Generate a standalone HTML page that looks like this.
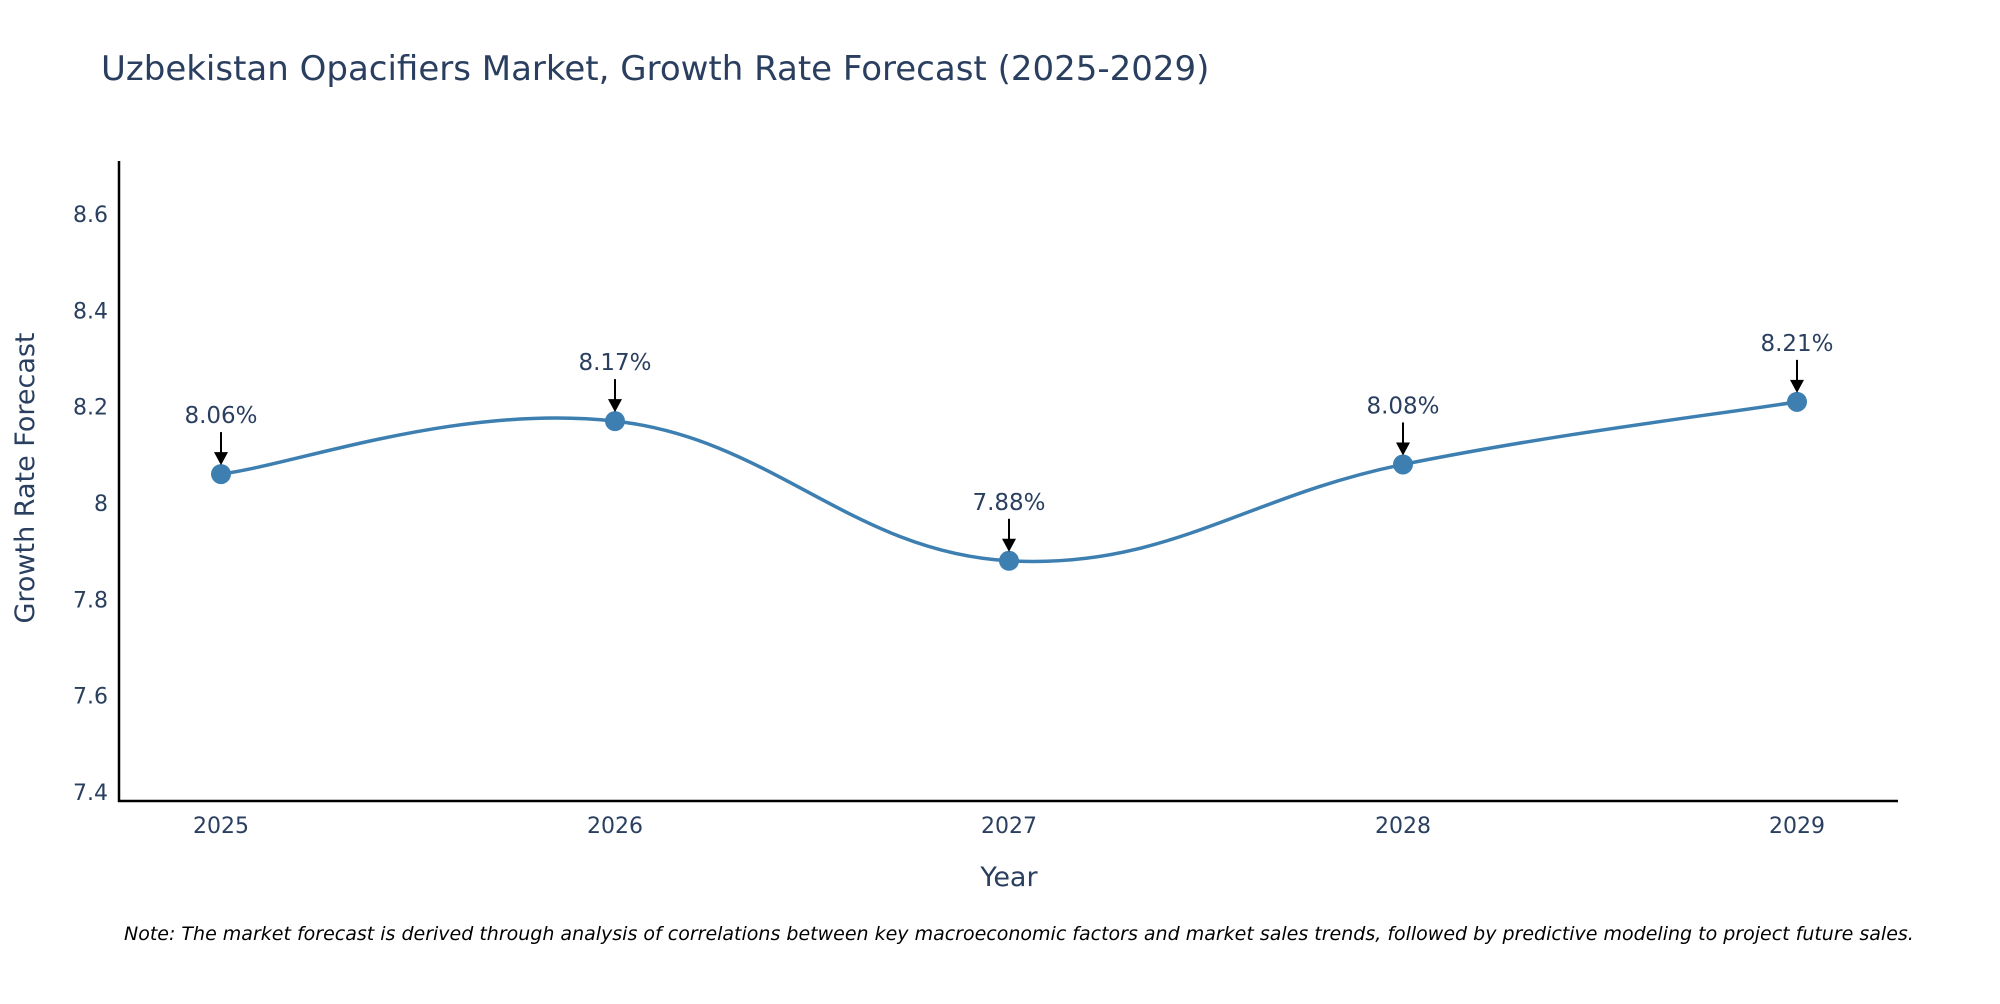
<!DOCTYPE html>
<html>
<head>
<meta charset="utf-8">
<style>
  html,body{margin:0;padding:0;background:#fff;}
  body{width:2000px;height:1000px;overflow:hidden;font-family:"DejaVu Sans","Liberation Sans",sans-serif;}
  svg text{font-family:"DejaVu Sans","Liberation Sans",sans-serif;}
</style>
</head>
<body>
<svg id="chart" width="2000" height="1000" viewBox="0 0 2000 1000" xmlns="http://www.w3.org/2000/svg">
  <text x="101" y="80" font-size="34" fill="#2a3f5f">Uzbekistan Opacifiers Market, Growth Rate Forecast (2025-2029)</text>
  <g id="yticks"></g>
  <g id="xticks"></g>
  <line x1="119" y1="161" x2="119" y2="802" stroke="#000" stroke-width="2.5"/>
  <line x1="118" y1="801" x2="1898" y2="801" stroke="#000" stroke-width="2.5"/>
  <path id="line" fill="none" stroke="#3d7fb1" stroke-width="3.5"/>
  <g id="marks"></g>
  <g id="annots"></g>
  <text transform="translate(34,478) rotate(-90)" text-anchor="middle" font-size="27" fill="#2a3f5f">Growth Rate Forecast</text>
  <text x="1009" y="886" text-anchor="middle" font-size="27" fill="#2a3f5f">Year</text>
  <text x="124" y="940" font-size="19" font-style="italic" fill="#000">Note: The market forecast is derived through analysis of correlations between key macroeconomic factors and market sales trends, followed by predictive modeling to project future sales.</text>
</svg>
<script>
const years = ["2025","2026","2027","2028","2029"];
const values = [8.06, 8.17, 7.88, 8.08, 8.21];
const labels = ["8.06%","8.17%","7.88%","8.08%","8.21%"];
const yTicks = [7.4, 7.6, 7.8, 8, 8.2, 8.4, 8.6];
const yTickLabels = ["7.4","7.6","7.8","8","8.2","8.4","8.6"];

const NS = "http://www.w3.org/2000/svg";
function xScale(i){ return 221 + i * (1797 - 221) / 4; }
function yScale(v){ return 792 - (v - 7.4) * (792 - 214) / 1.2; }
function mk(tag, attrs, parent){
  const e = document.createElementNS(NS, tag);
  for (const k in attrs) e.setAttribute(k, attrs[k]);
  parent.appendChild(e); return e;
}
const yt = document.getElementById('yticks');
yTicks.forEach((v,i)=>{
  const t = mk('text',{x:108,y:yScale(v)+8,'text-anchor':'end','font-size':22,fill:'#2a3f5f'},yt);
  
  
  t.textContent = yTickLabels[i];
});
const xt = document.getElementById('xticks');
years.forEach((y,i)=>{
  const t = mk('text',{x:xScale(i),y:833,'text-anchor':'middle','font-size':22,fill:'#2a3f5f'},xt);
  
  
  t.textContent = y;
});
const pts = values.map((v,i)=>[xScale(i), yScale(v)]);
let d = `M${pts[0][0]},${pts[0][1]}`;
const s = 0.2;
for (let i=0;i<pts.length-1;i++){
  const p0 = pts[i-1]||pts[i], p1 = pts[i], p2 = pts[i+1], p3 = pts[i+2]||p2;
  const c1 = [p1[0]+(p2[0]-p0[0])*s, p1[1]+(p2[1]-p0[1])*s];
  const c2 = [p2[0]-(p3[0]-p1[0])*s, p2[1]-(p3[1]-p1[1])*s];
  d += ` C${c1[0]},${c1[1]} ${c2[0]},${c2[1]} ${p2[0]},${p2[1]}`;
}
document.getElementById('line').setAttribute('d', d);
const mg = document.getElementById('marks');
const ag = document.getElementById('annots');
pts.forEach((p,i)=>{
  const c = mk('circle',{cx:p[0],cy:p[1],r:10,fill:'#3d7fb1'},mg);
  
  
  const g = mk('g',{},ag);
  
  
  mk('line',{x1:p[0],y1:p[1]-42,x2:p[0],y2:p[1]-20,stroke:'#000','stroke-width':2},g);
  mk('polygon',{points:`${p[0]-7},${p[1]-22} ${p[0]+7},${p[1]-22} ${p[0]},${p[1]-9}`,fill:'#000'},g);
  const t = mk('text',{x:p[0],y:p[1]-51,'text-anchor':'middle','font-size':23,fill:'#2a3f5f'},g);
  t.textContent = labels[i];
});
</script>
</body>
</html>
